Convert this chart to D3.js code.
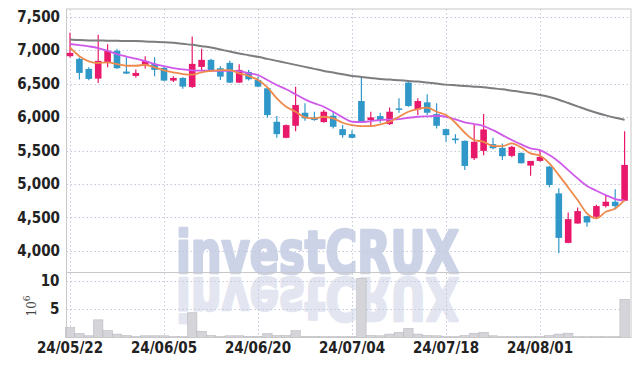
<!DOCTYPE html>
<html>
<head>
<meta charset="utf-8">
<script src="https://cdn.jsdelivr.net/npm/d3@7"></script>
<style>
  body { margin: 0; background: #fff; }
  svg { display: block; }
  .lbl text { font-family: 'Liberation Sans Narrow', 'DejaVu Sans Condensed', sans-serif; font-weight: bold; fill: #222; font-size: 15px; }
  .wm { font-family: 'Liberation Sans Narrow', 'DejaVu Sans Condensed', sans-serif; font-weight: bold; font-size: 58px; stroke-width: 2.6px; stroke-linejoin: round; }
</style>
</head>
<body>
<svg width="639" height="366"></svg>
<script>
(function (d3) {
  'use strict'

  // datos del gráfico
  const dates = ['24/05/22','24/05/23','24/05/24','24/05/27','24/05/28','24/05/29','24/05/30','24/05/31','24/06/03','24/06/04',
    '24/06/05','24/06/07','24/06/10','24/06/11','24/06/12','24/06/13','24/06/14','24/06/17','24/06/18','24/06/19',
    '24/06/20','24/06/21','24/06/24','24/06/25','24/06/26','24/06/27','24/06/28','24/07/01','24/07/02','24/07/03',
    '24/07/04','24/07/05','24/07/08','24/07/09','24/07/10','24/07/11','24/07/12','24/07/15','24/07/16','24/07/17',
    '24/07/18','24/07/19','24/07/22','24/07/23','24/07/24','24/07/25','24/07/26','24/07/29','24/07/30','24/07/31',
    '24/08/01','24/08/02','24/08/05','24/08/06','24/08/07','24/08/08','24/08/09','24/08/12','24/08/13','24/08/14'];
  const opens = [6910,6870,6720,6575,6810,6990,6680,6615,6775,6795, 6735,6545,6585,6450,6750,6855,6730,6810,6515,6675,
    6555,6430,5930,5690,5870,6065,5995,5925,6020,5820, 5745,6240,5955,6015,5895,6130,6515,6115,6220,6045,
    5820,5680,5645,5385,5495,5595,5540,5420,5465,5275, 5345,5260,4860,4120,4410,4520,4510,4670,4735,4750];
  const highs = [7260,6890,6745,7230,7090,7020,6895,6710,6910,6895, 6760,6610,6595,7205,7020,6870,6765,6840,6790,6705,
    6605,6445,6015,5890,6455,6205,6080,6105,6080,5880, 5805,6605,6080,6065,6145,6280,6555,6280,6340,6205,
    5830,5745,5650,5880,6045,5690,5605,5570,5470,5345, 5505,5270,4935,4575,4650,4525,4690,4825,4920,5790];
  const lows = [6890,6560,6550,6510,6745,6720,6645,6590,6725,6610, 6540,6525,6425,6435,6685,6680,6555,6510,6510,6545,
    6445,5995,5690,5685,5790,5945,5945,5915,5830,5690, 5685,5925,5865,5915,5880,6065,6155,6030,6030,5830,
    5630,5605,5210,5360,5430,5520,5360,5400,5305,5125, 5335,4950,3965,4115,4405,4360,4490,4650,4620,4745];
  const closes = [6960,6660,6570,6840,6990,6730,6650,6660,6840,6705, 6545,6585,6455,6795,6855,6690,6605,6515,6705,6565,
    6455,6030,5745,5880,6180,5980,5955,6080,5855,5730, 5690,5930,5995,5955,6080,6115,6165,6240,6065,5870,
    5730,5655,5270,5630,5815,5535,5415,5555,5310,5345, 5405,4985,4195,4475,4595,4425,4670,4735,4670,5285];
  // volumen en millones
  const volumes = [1.75,0.7,0.3,3.1,1.2,0.6,0.35,0.15,0.3,0.3, 0.3,0.15,0.15,4.35,1.1,0.35,0.15,0.3,0.3,0.2,
    0.2,0.7,0.35,0.35,1.2,0.2,0.2,0.15,0.15,0.15, 0.2,10.4,0.35,0.3,0.6,0.9,1.6,0.6,0.35,0.3,
    0.15,0.15,0.35,0.75,0.9,0.3,0.15,0.15,0.15,0.15, 0.15,0.35,0.6,0.75,0.15,0.15,0.15,0.15,0.15,6.7];
  // medias móviles
  const ma5 = [7040,6908,6833,6808,6818,6793,6767,6767,6782,6743, 6698,6668,6643,6633,6668,6688,6703,6703,6654,6614,
    6554,6444,6280,6155,6080,5996,5981,6005,5981,5915, 5881,5866,5866,5891,5930,6005,6080,6120,6140,6080,
    6030,5915,5766,5657,5631,5567,5567,5607,5547,5458, 5422,5308,5133,4949,4760,4561,4486,4585,4635,4760];
  const ma10 = [7092,7075,7057,7032,6990,6942,6905,6872,6835,6793, 6760,6733,6712,6698,6693,6693,6690,6690,6688,6654,
    6629,6554,6479,6415,6340,6265,6205,6155,6080,5996, 5930,5925,5940,5956,5963,5970,5990,6005,6012,6020,
    6005,5966,5920,5896,5866,5805,5731,5657,5592,5532, 5507,5432,5333,5208,5084,4970,4900,4834,4775,4750];
  const ma60 = [7160,7150,7145,7145,7140,7140,7135,7135,7130,7125, 7120,7110,7095,7080,7060,7040,7010,6980,6950,6925,
    6900,6870,6840,6810,6780,6750,6720,6690,6665,6640, 6615,6600,6585,6570,6560,6550,6540,6530,6515,6500,
    6485,6475,6465,6455,6445,6430,6415,6395,6375,6355, 6330,6300,6260,6210,6160,6110,6065,6025,5990,5960];

  const priceTicks = [4000, 4500, 5000, 5500, 6000, 6500, 7000, 7500];
  const volTicks = [5, 10];
  const dateTicks = ['24/05/22','24/06/05','24/06/20','24/07/04','24/07/18','24/08/01'];

  const svg = d3.select('svg');
  const left = 66.5, right = 631, top = 9, mid = 272, bottom = 337.5;
  const colorUp = '#e8196b', colorDown = '#2f98c8';

  const x = d3.scaleBand().domain(dates).range([65.3, 629.3]).padding(0);
  const cx = d => x(d) + x.bandwidth() / 2;
  const y = d3.scaleLinear().domain([3715, 7615]).range([270, top]);
  const yv = d3.scaleLinear().domain([0, 11.5]).range([bottom, mid]);

  // marca de agua y su reflejo
  const wm = svg.append('g');
  wm.append('text').attr('class', 'wm').text('investCRUX')
    .attr('x', 176).attr('y', 273)
    .attr('textLength', 283).attr('lengthAdjust', 'spacingAndGlyphs')
    .attr('fill', '#ccd3e7').attr('stroke', '#ccd3e7');
  wm.append('text').attr('class', 'wm').text('investCRUX')
    .attr('x', 176).attr('y', -278)
    .attr('transform', 'scale(1,-1)')
    .attr('textLength', 283).attr('lengthAdjust', 'spacingAndGlyphs')
    .attr('fill', '#e3e6f0').attr('stroke', '#e3e6f0');

  // rejilla punteada
  const grid = svg.append('g').attr('stroke', '#c3c9dc').attr('stroke-dasharray', '1.5,2.5').attr('stroke-width', 1);
  grid.selectAll('.gy').data(priceTicks).enter().append('line')
    .attr('x1', left).attr('x2', right).attr('y1', d => Math.round(y(d)) + 0.5).attr('y2', d => Math.round(y(d)) + 0.5);
  grid.selectAll('.gv').data(volTicks).enter().append('line')
    .attr('x1', left).attr('x2', right).attr('y1', d => Math.round(yv(d)) + 0.5).attr('y2', d => Math.round(yv(d)) + 0.5);
  grid.selectAll('.gx').data(dateTicks).enter().append('line')
    .attr('x1', d => Math.round(cx(d)) + 0.5).attr('x2', d => Math.round(cx(d)) + 0.5).attr('y1', top).attr('y2', bottom);

  // volumen
  svg.append('g').selectAll('rect').data(dates).enter().append('rect')
    .attr('x', d => x(d)).attr('width', x.bandwidth())
    .attr('y', (d, i) => yv(volumes[i])).attr('height', (d, i) => bottom - yv(volumes[i]))
    .attr('fill', '#d4d4d9').attr('stroke', '#b9b9c0').attr('stroke-width', 0.6);

  // bordes de paneles
  const frame = svg.append('g').attr('stroke', '#c8c8c8').attr('fill', 'none');
  frame.append('rect').attr('x', left).attr('y', top).attr('width', right - left).attr('height', bottom - top);
  frame.append('line').attr('x1', left).attr('x2', right).attr('y1', mid + 0.5).attr('y2', mid + 0.5);

  // velas
  const candles = svg.append('g').selectAll('g').data(dates).enter().append('g');
  candles.append('line')
    .attr('x1', d => cx(d)).attr('x2', d => cx(d))
    .attr('y1', (d, i) => y(highs[i])).attr('y2', (d, i) => y(lows[i]))
    .attr('stroke', (d, i) => closes[i] >= opens[i] ? colorUp : colorDown).attr('stroke-width', 1.2);
  candles.append('rect')
    .attr('x', d => cx(d) - 3.3).attr('width', 6.6)
    .attr('y', (d, i) => y(Math.max(opens[i], closes[i])))
    .attr('height', (d, i) => Math.max(1.5, Math.abs(y(opens[i]) - y(closes[i]))))
    .attr('fill', (d, i) => closes[i] >= opens[i] ? colorUp : colorDown);

  // medias móviles
  const linea = arr => d3.line().x((d, i) => cx(dates[i])).y(d => y(d)).curve(d3.curveMonotoneX)(arr);
  svg.append('path').attr('d', linea(ma60)).attr('fill', 'none').attr('stroke', '#7d7d7d').attr('stroke-width', 2);
  svg.append('path').attr('d', linea(ma10)).attr('fill', 'none').attr('stroke', '#cf5ae9').attr('stroke-width', 1.8);
  svg.append('path').attr('d', linea(ma5)).attr('fill', 'none').attr('stroke', '#ee8a4c').attr('stroke-width', 1.8);

  // ejes
  svg.append('g').attr('class', 'lbl').attr('transform', `translate(${left},0)`)
    .call(d3.axisLeft(y).tickValues(priceTicks).tickFormat(d3.format(',')).tickSize(0).tickPadding(6.5))
    .call(g => g.select('.domain').remove());
  svg.append('g').attr('class', 'lbl').attr('transform', `translate(${left},0)`)
    .call(d3.axisLeft(yv).tickValues(volTicks).tickSize(0).tickPadding(7))
    .call(g => g.select('.domain').remove());
  svg.append('g').attr('class', 'lbl').attr('transform', `translate(0,${bottom})`)
    .call(d3.axisBottom(x).tickValues(dateTicks).tickSize(0).tickPadding(4.5))
    .call(g => g.select('.domain').remove());

  // unidad del volumen
  const unidad = svg.append('text')
    .attr('transform', 'translate(36,306) rotate(-90)')
    .attr('text-anchor', 'middle')
    .style('font-family', 'DejaVu Serif').style('font-size', '12px').attr('fill', '#444');
  unidad.append('tspan').text('10');
  unidad.append('tspan').text('6').attr('dy', -6).style('font-size', '9px');

}(d3));
</script>
</body>
</html>
